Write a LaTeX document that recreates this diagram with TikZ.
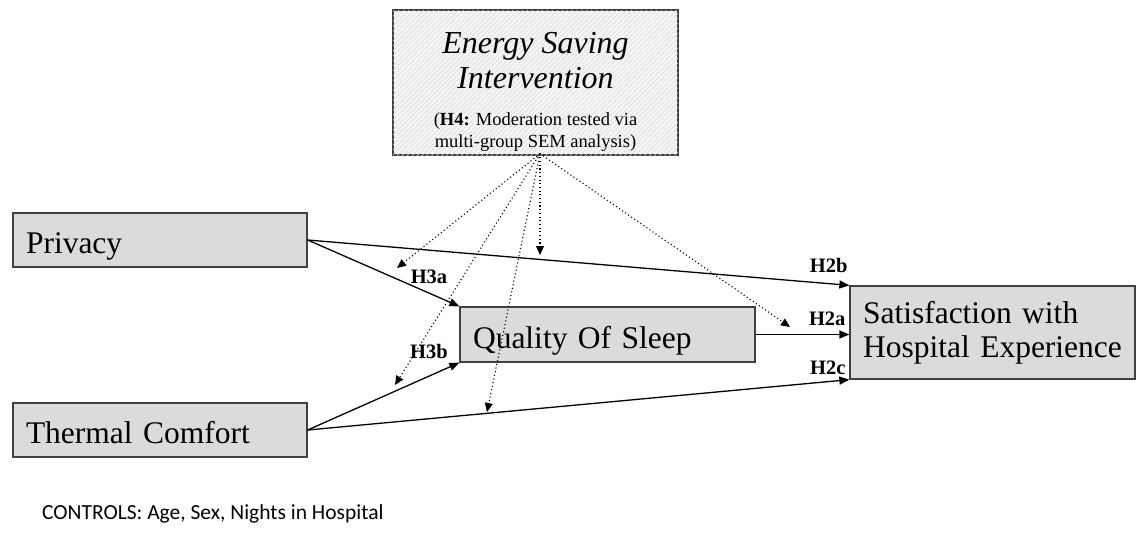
\documentclass[tikz,border=0pt]{standalone}
\usepackage{fontspec}
\setmainfont{Liberation Serif}
\newfontfamily\ctrlfont{Carlito}
\usetikzlibrary{arrows.meta,patterns.meta,calc}
\newcommand{\smallline}{\upshape\fontsize{18.5}{22}\selectfont}
\begin{document}
\begin{tikzpicture}[x=1pt,y=-1pt,
  box/.style={draw=black!75, line width=1.3pt, fill=black!14, inner xsep=13pt,
    inner ysep=0pt, align=left, font=\fontsize{31.5}{34}\selectfont},
  onebox/.style={box, text height=27pt, text depth=0pt},
  ebox/.style={draw=black!75, line width=1.3pt, fill=black!4,
    postaction={pattern={Lines[angle=45,distance=3.5pt,line width=0.5pt]}, pattern color=black!15},
    minimum width=285pt, minimum height=145pt, inner sep=0pt},
  etext/.style={inner sep=0pt, align=center, font=\fontsize{32}{35}\selectfont\itshape},
  link/.style={line width=1.3pt, -{Triangle[length=10pt,width=8pt]}},
  mod/.style={line width=1.1pt, dash pattern=on 1.1pt off 2.6pt, -{Triangle[length=9pt,width=8pt]}},
  hyp/.style={font=\fontsize{20.5}{22}\selectfont\bfseries}
]
\useasboundingbox (0,0) rectangle (1137,538);

\node[ebox] (energy) at (535.5,82.5) {};
\node[etext] (energytext) at (535.5,92) {Energy Saving\\ Intervention\\[2pt]
 \smallline (\textbf{H4:} Moderation tested via\\[-13pt]
 \smallline multi-group SEM analysis)};

\node[onebox, text width=268pt, minimum height=54pt] (priv) at (160,240) {Privacy};
\node[onebox, text width=268pt, minimum height=54pt] (therm) at (160,430) {Thermal Comfort};
\node[onebox, text width=269pt, minimum height=55pt] (qos) at (607.5,334.5) {Quality Of Sleep};
\node[box, text width=259pt, minimum height=93pt, inner xsep=13pt] (sat) at (992.5,332.5) {Satisfaction with\\ Hospital Experience};

% solid paths
\draw[link] (priv.east) -- (sat.north west);
\draw[link] (priv.east) -- (qos.north west);
\draw[link] (therm.east) -- (qos.south west);
\draw[link] (therm.east) -- (sat.south west);
\draw[link] (qos.east) -- (qos.east -| sat.west);

% moderation (dotted)
\coordinate (src) at ([xshift=4.5pt,yshift=2pt]energy.south);
\coordinate (m1) at (397,268);
\coordinate (m2) at (395,385);
\coordinate (m3) at (487,412);
\coordinate (m4) at (540,255);
\coordinate (m5) at (790,327);
\draw[mod] (src) -- (m1);
\draw[mod] (src) -- (m2);
\draw[mod] (src) -- (m3);
\draw[mod] (src) -- (m4);
\draw[mod] (src) -- (m5);

% hypothesis labels
\node[hyp, anchor=base] (h3a) at (429,283) {H3a};
\node[hyp, anchor=base] (h3b) at (429,358) {H3b};
\node[hyp, anchor=base east] (h2b) at (851,272) {H2b};
\node[hyp, anchor=base east] (h2a) at (849,325) {H2a};
\node[hyp, anchor=base east] (h2c) at (849,374) {H2c};

\node[anchor=base west, inner sep=0pt, font=\ctrlfont\fontsize{21.5}{24}\selectfont] (ctrl) at (42,519) {CONTROLS: Age, Sex, Nights in Hospital};
\end{tikzpicture}
\end{document}
